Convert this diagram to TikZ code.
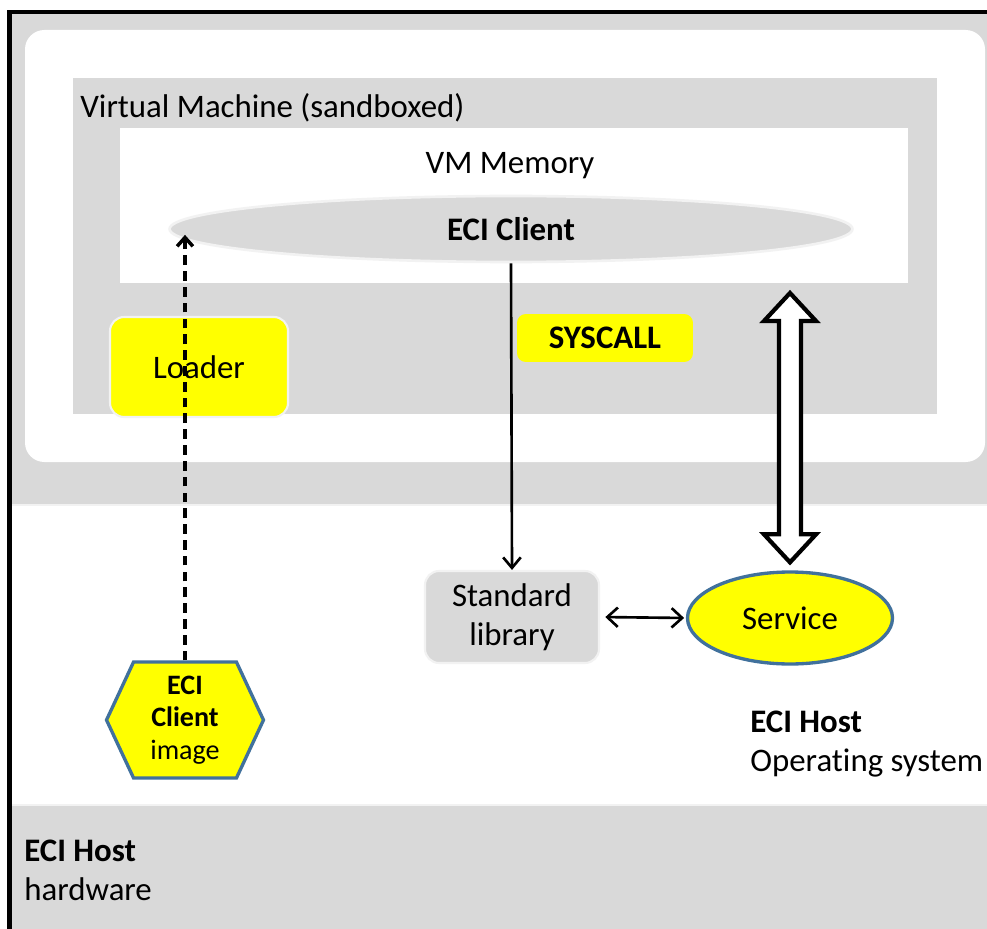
\documentclass[tikz,border=0pt]{standalone}
\usepackage{fontspec}
\setmainfont{Carlito}[Ligatures=NoCommon]
\usepackage{tikz}
\usetikzlibrary{arrows.meta,calc,shapes.geometric,shapes.symbols}

\definecolor{bggray}{HTML}{D9D9D9}
\definecolor{hiyellow}{HTML}{FFFF00}
\definecolor{rimblue}{HTML}{41719C}
\definecolor{rimwhite}{HTML}{F2F2F2}

\tikzset{
  basefont/.style={font=\fontsize{18.7}{22}\selectfont},
  boldfont/.style={font=\fontsize{18.7}{22}\selectfont\bfseries},
  smallfont/.style={font=\fontsize{16}{18.5}\selectfont},
  yellowbox/.style={rectangle, rounded corners=8pt, fill=hiyellow, draw=rimwhite, line width=1.2pt},
  graybox/.style={rectangle, rounded corners=8pt, fill=bggray, draw=rimwhite, line width=1.2pt},
  blueshape/.style={fill=hiyellow, draw=rimblue, line width=1.9pt},
  callarrow/.style={-{Straight Barb[length=6pt,width=10pt]}, line width=1.5pt},
  loadarrow/.style={-{Straight Barb[length=5pt,width=9pt]}, line width=2pt, dash pattern=on 5.5pt off 3.5pt},
  linkarrow/.style={{Straight Barb[length=6pt,width=11pt]}-{Straight Barb[length=6pt,width=11pt]}, line width=1.5pt},
  fatarrow/.style={fill=white, draw=black, line width=2.4pt, line join=miter},
}

\begin{document}
\begin{tikzpicture}[x=0.02cm, y=-0.02cm, basefont]
\useasboundingbox (0,0) rectangle (987,929);

% host layers
\fill[bggray] (10,12) rectangle (987,505);
\fill[white] (10,505) rectangle (987,805);
\fill[bggray] (10,805) rectangle (987,929);
\draw[rimwhite, line width=1pt] (10,505) -- (987,505) (10,805) -- (987,805);
\draw[line width=2.3pt] (9.5,929) |- (987,12);

% sandbox window and VM
\fill[white, rounded corners=11pt] (25,30) rectangle (985,462);
\fill[bggray] (73,78) rectangle (937,414);
\node[anchor=west, inner sep=0] (vmlabel) at (80,108) {Virtual Machine (sandboxed)};
\fill[white] (120,128) rectangle (908,283);
\node[inner sep=0] (memlabel) at (510,166) {VM Memory};

% nodes
\node[ellipse, fill=bggray, draw=rimwhite, line width=1.5pt, minimum width=13.66cm, minimum height=1.32cm, boldfont] (client) at (511,229) {ECI Client};
\node[yellowbox, minimum width=3.56cm, minimum height=2cm] (loader) at (199,367) {Loader};
\node[yellowbox, draw=none, rounded corners=5pt, minimum width=3.52cm, minimum height=0.96cm, boldfont] (syscall) at (605,338) {SYSCALL};
\node[graybox, minimum width=3.48cm, minimum height=1.84cm, align=center] (stdlib) at (512,617) {Standard\\library};
\node[ellipse, blueshape, minimum width=4.1cm, minimum height=1.84cm] (service) at (790,618) {Service};
\node[signal, signal to=west and east, signal pointer angle=130, blueshape, minimum width=3.14cm, minimum height=2.32cm, inner sep=0, align=center, smallfont] (image) at (185,720) {\textbf{ECI}\\\textbf{Client}\\image};

% host labels
\node[anchor=north west, inner sep=0, align=left] (oslabel) at (750,711) {\textbf{ECI Host}\\Operating system};
\node[anchor=north west, inner sep=0, align=left] (hwlabel) at (24,840) {\textbf{ECI Host}\\hardware};

% connectors
\draw[loadarrow] (image.north) -- (image.north |- client.181.8);
\draw[callarrow] (client.south) -- (stdlib.north);
\draw[linkarrow, shorten <=3pt, shorten >=1pt] (stdlib.east) -- (service.west);

% memory <-> service
\coordinate (pipetop) at (790,293);
\coordinate (pipebot) at ([yshift=0.16cm]service.north);
\draw[fatarrow] (pipetop) -- ++(26,28) -- ++(-15,0) -- ($(pipebot)+(11,-28)$) -- ++(15,0) -- (pipebot)
  -- ++(-26,-28) -- ++(15,0) -- ($(pipetop)+(-11,28)$) -- ++(-15,0) -- cycle;
\end{tikzpicture}
\end{document}
